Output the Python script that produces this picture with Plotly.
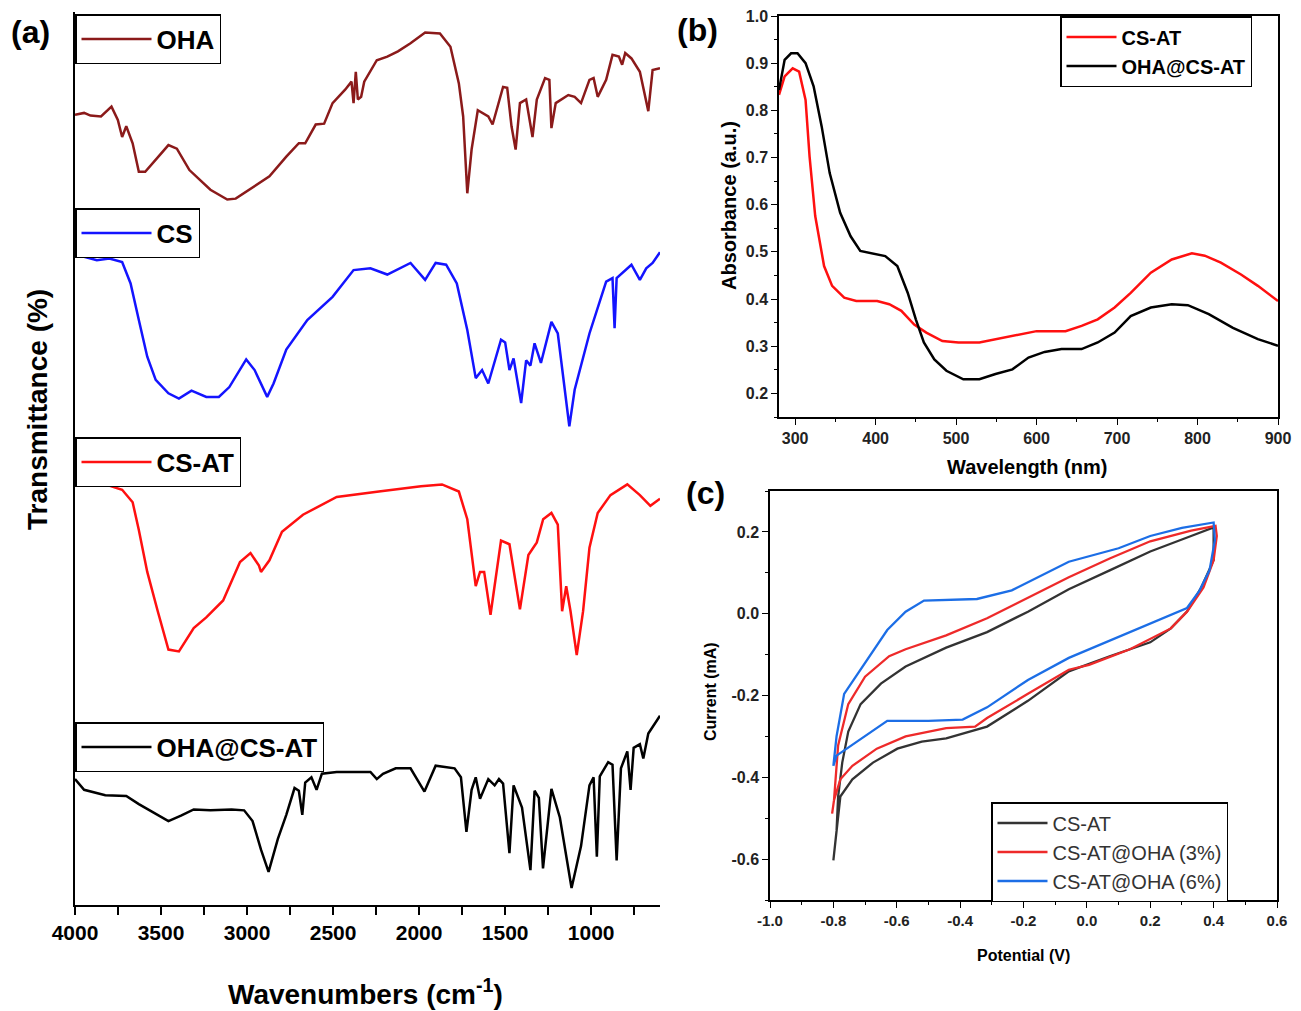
import plotly.graph_objects as go

# ---------------- Panel (a): FTIR spectra (stacked, arbitrary transmittance units) -------------
oha_wn = [4000, 3947, 3910, 3849, 3788, 3751, 3726, 3702, 3665, 3629, 3592, 3457, 3408, 3335, 3213,
          3115, 3066, 2968, 2870, 2772, 2699, 2662, 2601, 2552, 2503, 2430, 2393, 2381, 2368, 2356,
          2337, 2319, 2246, 2185, 2123, 2050, 1965, 1879, 1818, 1769, 1744, 1720, 1695, 1659, 1598,
          1573, 1512, 1488, 1463, 1439, 1414, 1378, 1341, 1316, 1268, 1243, 1231, 1206, 1133, 1096,
          1059, 1010, 986, 962, 913, 876, 839, 820, 802, 766, 717, 668, 643, 600]
oha_t = [88.5, 88.7, 88.4, 88.3, 89.4, 87.9, 86.0, 87.2, 85.3, 82.1, 82.1, 85.1, 84.7, 82.3, 80.1,
         79.0, 79.1, 80.3, 81.6, 83.8, 85.3, 85.3, 87.4, 87.5, 89.8, 91.3, 92.2, 89.8, 93.3, 90.2,
         90.5, 92.2, 94.6, 95.0, 95.6, 96.5, 97.7, 97.6, 96.1, 92.0, 88.3, 79.7, 84.6, 89.0, 88.3,
         87.4, 91.6, 91.5, 87.2, 84.6, 89.8, 90.2, 86.0, 90.2, 92.6, 92.4, 87.0, 89.8, 90.7, 90.5,
         89.8, 92.4, 92.6, 90.5, 92.4, 95.2, 95.0, 94.1, 95.4, 94.8, 93.3, 88.9, 93.5, 93.7]

cs_wn = [4000, 3947, 3873, 3800, 3726, 3677, 3629, 3580, 3531, 3457, 3396, 3323, 3237, 3164, 3103,
         3005, 2956, 2883, 2846, 2772, 2650, 2503, 2381, 2283, 2185, 2050, 1965, 1904, 1843, 1781,
         1720, 1671, 1634, 1598, 1524, 1500, 1475, 1451, 1407, 1378, 1353, 1329, 1292, 1231, 1194,
         1157, 1127, 1096, 1010, 913, 876, 864, 852, 766, 717, 680, 643, 600]
cs_t = [72.8, 72.6, 72.2, 72.4, 72.0, 69.6, 65.5, 61.4, 58.8, 57.3, 56.7, 57.6, 56.9, 56.9, 58.0,
        61.1, 59.9, 56.9, 58.4, 62.2, 65.5, 68.1, 71.1, 71.3, 70.6, 71.9, 70.0, 71.9, 71.7, 69.6,
        64.4, 59.0, 59.9, 58.4, 63.3, 63.0, 59.9, 61.2, 56.2, 61.0, 60.4, 62.9, 60.7, 65.3, 64.0,
        58.4, 53.6, 57.7, 64.0, 69.8, 70.2, 64.6, 70.2, 71.7, 70.0, 71.3, 71.9, 73.1]

csat_wn = [4000, 3824, 3726, 3665, 3629, 3580, 3519, 3457, 3396, 3310, 3237, 3139, 3041, 2980, 2931,
           2919, 2870, 2797, 2675, 2479, 2234, 1989, 1867, 1769, 1720, 1671, 1646, 1622, 1585, 1524,
           1475, 1414, 1365, 1316, 1279, 1231, 1194, 1169, 1145, 1120, 1084, 1047, 1010, 962, 888,
           790, 717, 656, 600]
csat_t = [47.1, 47.1, 46.5, 45.1, 42.0, 37.3, 32.9, 28.6, 28.4, 31.0, 32.2, 34.1, 38.4, 39.4, 38.0,
          37.3, 38.6, 41.8, 43.7, 45.7, 46.3, 46.9, 47.1, 46.3, 43.2, 35.7, 37.3, 37.3, 32.5, 40.8,
          40.4, 33.1, 39.2, 40.6, 43.2, 43.9, 42.6, 32.9, 35.7, 32.9, 28.0, 32.9, 40.0, 43.9, 45.9,
          47.1, 45.9, 44.7, 45.5]

ohacsat_wn = [4000, 3947, 3824, 3702, 3629, 3555, 3457, 3384, 3310, 3213, 3090, 3017, 2968, 2919, 2875,
              2821, 2772, 2724, 2699, 2679, 2662, 2626, 2596, 2565, 2479, 2283, 2246, 2210, 2136, 2050,
              1969, 1904, 1794, 1757, 1725, 1695, 1671, 1646, 1598, 1561, 1536, 1512, 1475, 1451, 1402,
              1353, 1329, 1304, 1280, 1231, 1182, 1114, 1059, 1010, 986, 967, 950, 901, 876, 852,
              827, 790, 771, 753, 717, 697, 668, 600]
ohacsat_t = [14.1, 12.9, 12.3, 12.2, 11.3, 10.5, 9.4, 10.0, 10.7, 10.6, 10.7, 10.6, 9.4, 6.2, 3.7,
             7.4, 10.1, 13.1, 12.8, 10.1, 13.7, 14.3, 12.9, 14.7, 14.9, 14.9, 14.1, 14.7, 15.3, 15.3,
             12.7, 15.6, 15.3, 14.3, 8.2, 12.9, 14.3, 11.9, 14.1, 13.4, 14.1, 13.6, 5.8, 13.4, 10.9,
             3.9, 12.8, 12.0, 4.1, 13.0, 9.8, 1.9, 6.6, 13.4, 14.3, 5.4, 14.4, 16.0, 15.7, 5.0,
             15.3, 17.2, 12.9, 17.6, 18.0, 16.4, 19.2, 21.2]
ftir_ticks = [4000, 3500, 3000, 2500, 2000, 1500, 1000]

# ---------------- Panel (b): UV-Vis ----------------
uv_cs_at_nm = [280, 287, 297, 305, 313, 318, 325, 336, 346, 361, 376, 402, 417, 432, 448, 463, 483,
               503, 529, 549, 580, 600, 636, 656, 676, 697, 717, 742, 768, 793, 809, 829, 854, 875, 900]
uv_cs_at_abs = [0.833, 0.872, 0.889, 0.882, 0.822, 0.702, 0.576, 0.470, 0.428, 0.403, 0.396, 0.396,
                0.389, 0.375, 0.346, 0.329, 0.311, 0.308, 0.308, 0.315, 0.325, 0.332, 0.332, 0.343,
                0.357, 0.382, 0.413, 0.456, 0.484, 0.497, 0.492, 0.477, 0.452, 0.428, 0.396]
uv_oha_nm = [280, 287, 295, 303, 313, 323, 333, 343, 356, 369, 381, 397, 412, 427, 440, 450, 460,
             473, 488, 509, 529, 549, 570, 590, 610, 631, 656, 676, 697, 717, 742, 768, 788, 814,
             844, 875, 900]
uv_oha_abs = [0.843, 0.907, 0.921, 0.921, 0.900, 0.851, 0.766, 0.667, 0.583, 0.533, 0.502, 0.496,
              0.491, 0.470, 0.413, 0.357, 0.308, 0.272, 0.248, 0.230, 0.230, 0.241, 0.251, 0.276,
              0.288, 0.294, 0.294, 0.308, 0.329, 0.364, 0.382, 0.389, 0.387, 0.368, 0.339, 0.315,
              0.301]

# ---------------- Panel (c): cyclic voltammetry ----------------
cv_csat_v = [-0.80, -0.79, -0.785, -0.772, -0.753, -0.714, -0.65, -0.572, -0.444, -0.315, -0.186,
             -0.057, 0.072, 0.20, 0.329, 0.40, 0.40, 0.361, 0.316, 0.265, 0.20, 0.072, -0.057,
             -0.186, -0.315, -0.444, -0.521, -0.598, -0.675, -0.74, -0.778, -0.79, -0.80]
cv_csat_i = [-0.603, -0.531, -0.447, -0.364, -0.288, -0.221, -0.171, -0.129, -0.083, -0.045, 0.005,
             0.060, 0.106, 0.152, 0.190, 0.211, 0.131, 0.064, 0.005, -0.036, -0.070, -0.104, -0.141,
             -0.213, -0.276, -0.305, -0.313, -0.330, -0.364, -0.405, -0.447, -0.531, -0.603]
cv_3_v = [-0.804, -0.798, -0.785, -0.753, -0.70, -0.624, -0.572, -0.444, -0.315, -0.186, -0.057,
          0.072, 0.20, 0.329, 0.406, 0.41, 0.40, 0.368, 0.316, 0.265, 0.136, 0.007, -0.057, -0.186,
          -0.315, -0.353, -0.444, -0.572, -0.663, -0.74, -0.778, -0.798, -0.804]
cv_3_i = [-0.489, -0.456, -0.322, -0.221, -0.154, -0.104, -0.087, -0.053, -0.011, 0.039, 0.089,
          0.135, 0.177, 0.203, 0.215, 0.19, 0.131, 0.064, 0.005, -0.036, -0.087, -0.125, -0.137,
          -0.196, -0.255, -0.276, -0.280, -0.300, -0.330, -0.372, -0.405, -0.456, -0.489]
cv_6_v = [-0.80, -0.79, -0.766, -0.70, -0.63, -0.572, -0.514, -0.347, -0.237, -0.057, 0.10, 0.20,
          0.30, 0.40, 0.404, 0.387, 0.355, 0.316, 0.136, -0.057, -0.186, -0.315, -0.392, -0.50,
          -0.63, -0.70, -0.79, -0.80]
cv_6_i = [-0.372, -0.30, -0.196, -0.12, -0.04, 0.005, 0.032, 0.036, 0.057, 0.127, 0.16, 0.19,
          0.21, 0.223, 0.18, 0.106, 0.056, 0.014, -0.045, -0.108, -0.162, -0.229, -0.259, -0.262,
          -0.262, -0.30, -0.347, -0.372]
cv_x_ticks = [-1.0, -0.8, -0.6, -0.4, -0.2, 0.0, 0.2, 0.4, 0.6]
cv_x_labels = ["-1.0", "-0.8", "-0.6", "-0.4", "-0.2", "0.0", "0.2", "0.4", "0.6"]
cv_y_ticks = [-0.6, -0.4, -0.2, 0.0, 0.2]
cv_y_labels = ["-0.6", "-0.4", "-0.2", "0.0", "0.2"]

# ---------------- layout helpers (page pixels -> paper fraction) ----------------
W, H = 1301, 1011
def fx(p):
    return p / W
def fy(p):
    return 1 - p / H

FONT = "Liberation Sans, Arial, sans-serif"

fig = go.Figure()

# Panel (a) traces, each with its own boxed legend
a_series = [
    (oha_wn, oha_t, "OHA", "#8b1a1a", "legend", 14),
    (cs_wn, cs_t, "CS", "#1414ff", "legend2", 208),
    (csat_wn, csat_t, "CS-AT", "#ff1010", "legend3", 437),
    (ohacsat_wn, ohacsat_t, "OHA@CS-AT", "#000000", "legend4", 722),
]
for xs, ys, name, col, leg, _ in a_series:
    fig.add_trace(go.Scatter(x=xs, y=ys, mode="lines", name=name, legend=leg, showlegend=True,
                             line=dict(color=col, width=2.5), xaxis="x", yaxis="y"))

# Panel (b)
fig.add_trace(go.Scatter(x=uv_cs_at_nm, y=uv_cs_at_abs, mode="lines", name="CS-AT", legend="legend5",
                         line=dict(color="#ff1010", width=2.5), xaxis="x2", yaxis="y2"))
fig.add_trace(go.Scatter(x=uv_oha_nm, y=uv_oha_abs, mode="lines", name="OHA@CS-AT", legend="legend5",
                         line=dict(color="#000000", width=2.5), xaxis="x2", yaxis="y2"))

# Panel (c)
fig.add_trace(go.Scatter(x=cv_csat_v, y=cv_csat_i, mode="lines", name="CS-AT", legend="legend6",
                         line=dict(color="#333333", width=2.3), xaxis="x3", yaxis="y3"))
fig.add_trace(go.Scatter(x=cv_3_v, y=cv_3_i, mode="lines", name="CS-AT@OHA (3%)", legend="legend6",
                         line=dict(color="#ee2a2a", width=2.3), xaxis="x3", yaxis="y3"))
fig.add_trace(go.Scatter(x=cv_6_v, y=cv_6_i, mode="lines", name="CS-AT@OHA (6%)", legend="legend6",
                         line=dict(color="#1c6ee6", width=2.3), xaxis="x3", yaxis="y3"))

axis_common = dict(showgrid=False, zeroline=False, linecolor="black", linewidth=1.5,
                   tickcolor="black", ticks="outside", automargin=False)

layout = dict(
    width=W, height=H, margin=dict(l=0, r=0, t=0, b=0, pad=0, autoexpand=False),
    showlegend=True,
    paper_bgcolor="white", plot_bgcolor="white",
    font=dict(family=FONT, color="black"),
    xaxis=dict(**axis_common, domain=[fx(75), fx(660)], range=[4000, 600], anchor="y",
               tickvals=ftir_ticks, ticklen=8, tickwidth=1.5,
               minor=dict(dtick=250, tick0=0, ticks="outside", ticklen=8, tickcolor="black", tickwidth=1.5),
               tickfont=dict(size=21, weight="bold", family=FONT)),
    yaxis=dict(showgrid=False, zeroline=False, linecolor="black", linewidth=1.5, showline=True,
               automargin=False, domain=[fy(905), fy(12)], range=[0, 100], showticklabels=False,
               ticks="", anchor="x"),
    xaxis2=dict(**axis_common, domain=[fx(779), fx(1278)], range=[280, 900], anchor="y2", mirror=True,
                showline=True, dtick=100, tick0=0, ticklen=6, tickwidth=1.2,
                minor=dict(dtick=50, ticks="outside", ticklen=3, tickcolor="black"),
                tickfont=dict(size=16, weight="bold", family=FONT, color="#222")),
    yaxis2=dict(**axis_common, domain=[fy(417), fy(16)], range=[0.15, 1.0], anchor="x2", mirror=True,
                showline=True, dtick=0.1, tick0=0, tickformat=".1f", ticklen=6, tickwidth=1.2,
                minor=dict(dtick=0.05, ticks="outside", ticklen=3, tickcolor="black"),
                tickfont=dict(size=16, weight="bold", family=FONT, color="#222")),
    xaxis3=dict(**axis_common, domain=[fx(770), fx(1277)], range=[-1.0, 0.6], anchor="y3", mirror=True,
                showline=True, tickvals=cv_x_ticks, ticktext=cv_x_labels, ticklen=6, tickwidth=1.2,
                minor=dict(dtick=0.1, tick0=0, ticks="outside", ticklen=3, tickcolor="black"),
                tickfont=dict(size=15, weight="bold", family=FONT, color="#222")),
    yaxis3=dict(**axis_common, domain=[fy(900), fy(491)], range=[-0.7, 0.3], anchor="x3", mirror=True,
                showline=True, tickvals=cv_y_ticks, ticktext=cv_y_labels, ticklen=6,
                tickwidth=1.2, minor=dict(dtick=0.1, tick0=0, ticks="outside", ticklen=3, tickcolor="black"),
                tickfont=dict(size=16, weight="bold", family=FONT, color="#222")),
)

# boxed legends for panel (a)
for i, (_, _, _, _, leg, top) in enumerate(a_series):
    layout[leg] = dict(x=fx(75), y=fy(top), xanchor="left", yanchor="top", visible=True,
                       bgcolor="white", bordercolor="black", borderwidth=1.5, itemwidth=70,
                       font=dict(size=26, weight="bold", family=FONT, color="black"),
                       itemclick=False, itemdoubleclick=False)
layout["legend5"] = dict(x=fx(1060), y=fy(16), xanchor="left", yanchor="top", itemwidth=50,
                         bgcolor="white", bordercolor="black", borderwidth=1.5, tracegroupgap=0,
                         font=dict(size=20, weight="bold", family=FONT, color="black"))
layout["legend6"] = dict(x=fx(991), y=fy(802), xanchor="left", yanchor="top", itemwidth=50,
                         bgcolor="white", bordercolor="black", borderwidth=1.5, tracegroupgap=0,
                         font=dict(size=20, family=FONT, color="#333"))

fig.update_layout(**layout)

ann = [
    dict(text="(a)", x=fx(30), y=fy(32), size=32, angle=0),
    dict(text="(b)", x=fx(697), y=fy(30), size=32, angle=0),
    dict(text="(c)", x=fx(705), y=fy(493), size=32, angle=0),
    dict(text="Transmittance (%)", x=fx(38), y=fy(410), size=28, angle=-90),
    dict(text="Wavenumbers (cm<sup>-1</sup>)", x=fx(365), y=fy(992), size=28, angle=0),
    dict(text="Wavelength (nm)", x=fx(1027), y=fy(467), size=20, angle=0),
    dict(text="Absorbance (a.u.)", x=fx(729), y=fy(205), size=20, angle=-90),
    dict(text="Potential (V)", x=fx(1023), y=fy(955), size=16, angle=0),
    dict(text="Current (mA)", x=fx(710), y=fy(692), size=16, angle=-90),
]
for a in ann:
    fig.add_annotation(text=a["text"], x=a["x"], y=a["y"], xref="paper", yref="paper",
                       showarrow=False, textangle=a["angle"], xanchor="center", yanchor="middle",
                       font=dict(size=a["size"], weight="bold", family=FONT, color="black"))

fig.write_html("out.html", config={"displayModeBar": False},
               post_script="document.body.style.margin='0';document.body.style.overflow='hidden';")
